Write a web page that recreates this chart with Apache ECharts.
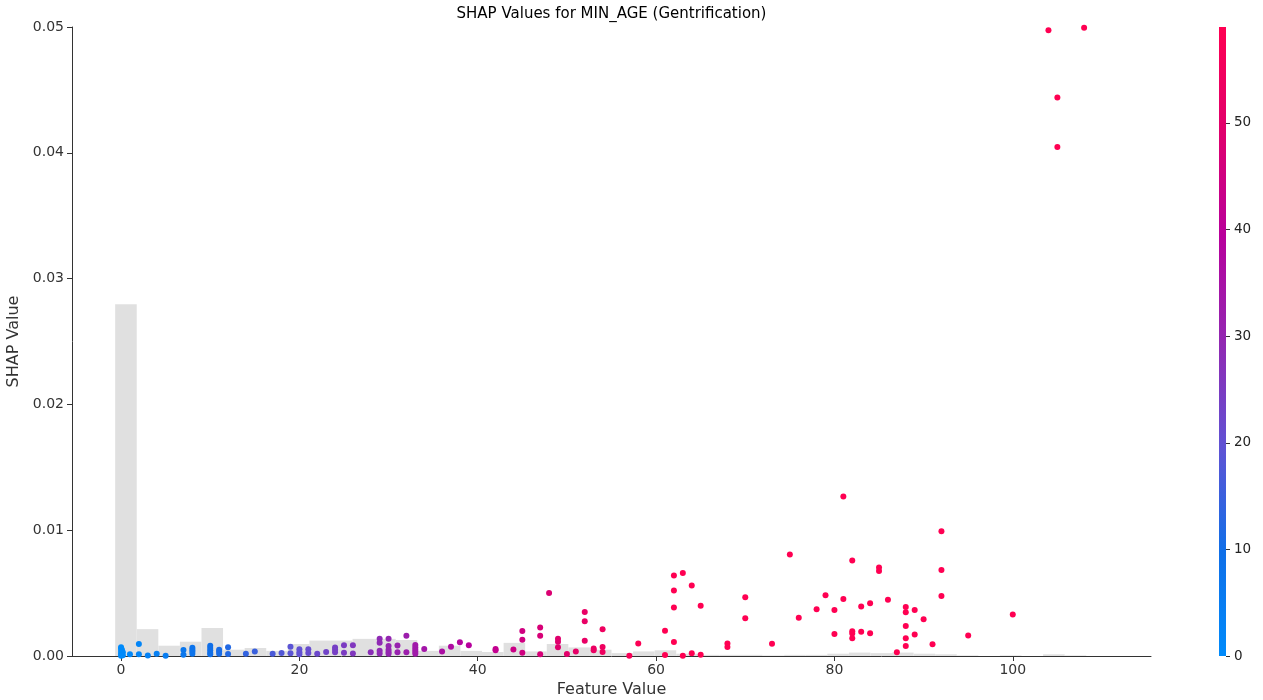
<!DOCTYPE html>
<html>
<head>
<meta charset="utf-8">
<script src="https://cdn.jsdelivr.net/npm/echarts@6/dist/echarts.min.js"></script>
<style>
  html, body { margin: 0; padding: 0; background: #ffffff; }
  #chart { width: 1263px; height: 700px; }
</style>
</head>
<body>
<div id="chart"></div>
<script>
// Feature value (MIN_AGE) and its SHAP contribution, one entry per plotted sample
const featureValues = [
  0, 0, 0.1, 0, 0.2, 0, 0.1, 0.2, 0,
  1, 2, 2, 3, 4, 5, 7, 7,
  8, 8, 8, 8,
  10, 10, 10, 10, 10,
  11, 11, 11, 12, 12, 14, 15, 17, 18, 19, 19,
  20, 20, 20, 21, 21, 22, 23, 24, 24, 24, 25, 25, 26, 26, 28,
  29, 29, 29, 29, 30, 30, 30, 30, 30, 31, 31, 32, 32,
  33, 33, 33, 33, 33, 34, 36, 37, 38, 39, 42, 42, 44,
  45, 45, 45, 47, 47, 47, 48, 49, 49, 49, 50, 51, 52, 52, 52,
  53, 53, 54, 54, 54, 57, 58, 61, 61, 62, 62, 62, 62, 63, 63,
  64, 64, 65, 65, 68, 68, 70, 70, 73, 75, 76, 78, 79, 80, 80,
  81, 81, 82, 82, 82, 82, 83, 83, 84, 84, 85, 85, 86, 87,
  88, 88, 88, 88, 88, 89, 89, 90, 91, 92, 92, 92, 95, 100,
  104, 105, 105, 108
];
const shapValues = [
  0.0007, 0.0006, 0.0005, 0.0004, 0.0003, 0.0002, 0.0001, 0.00005, 0.00002,
  0.00014, 0.00095, 0.00013, 0.00003, 0.00018, 0.00002, 0.00048, 0.0001,
  0.00066, 0.0005, 0.00035, 0.00018,
  0.00082, 0.00064, 0.00045, 0.00026, 0.00013,
  0.0005, 0.00035, 0.00018, 0.0007, 0.00016, 0.00018, 0.00035, 0.00018, 0.00024, 0.00074, 0.00021,
  0.00053, 0.0003, 0.00014, 0.00053, 0.00024, 0.00018, 0.00032, 0.00068, 0.0005, 0.0003, 0.00086, 0.00026, 0.00086, 0.00019, 0.0003,
  0.00138, 0.00105, 0.00042, 0.00019, 0.00138, 0.0008, 0.0005, 0.00031, 0.00018, 0.00084, 0.0003, 0.0016, 0.00029,
  0.00088, 0.00068, 0.0005, 0.00033, 0.00018, 0.00056, 0.00036, 0.00074, 0.0011, 0.00085, 0.00056, 0.00045, 0.00052,
  0.00198, 0.0013, 0.00026, 0.00226, 0.0016, 0.00014, 0.005, 0.00138, 0.00114, 0.00069, 0.00016, 0.00035, 0.0035, 0.00276, 0.00122,
  0.00059, 0.00045, 0.00212, 0.00072, 0.00032, 0.00002, 0.001, 0.002, 0.00008, 0.0064, 0.0052, 0.00385, 0.00111, 0.0066, 0.00002,
  0.0056, 0.00021, 0.004, 0.0001, 0.00099, 0.00072, 0.00467, 0.003, 0.00098, 0.00806, 0.00305, 0.00371, 0.00483, 0.00366, 0.00175,
  0.01267, 0.00453, 0.0076, 0.00196, 0.00178, 0.00141, 0.00393, 0.00192, 0.00419, 0.00181, 0.00703, 0.00676, 0.00448, 0.0003,
  0.0039, 0.00347, 0.00238, 0.00141, 0.0008, 0.00366, 0.0017, 0.00292, 0.00093, 0.00991, 0.00684, 0.00477, 0.00162, 0.00329,
  0.04974, 0.04439, 0.04046, 0.04995
];

// Background histogram of the feature: equal-width bins starting at histBinStart
const histBinStart = -0.66;
const histBinWidth = 2.42;
const histCounts = [
  615, 47, 18, 25, 49, 11, 14, 9, 21, 27, 27, 30, 30, 28, 9, 18, 9, 7, 23, 8,
  21, 15, 11, 5, 8, 10, 4, 2, 2, 2, 1, 2, 2, 4, 6, 5, 6, 4, 3, 1,
  0, 1, 0, 3, 1
];
const sampleCount = 1100;

// Axis ticks and colour scale
const xTicks = [0, 20, 40, 60, 80, 100];
const xRange = [-5.5, 115.5];
const yRange = [0, 0.05];
const yStep = 0.01;
const colorRange = [0, 59];
const colorTicks = [0, 10, 20, 30, 40, 50];
const colorStops = ['#008bfb', '#106fe8', '#6052d4', '#9228b2', '#b8009c', '#e0006c', '#ff0052'];

const FONT = 'DejaVu Sans';
const AXIS_COLOR = '#333333';

const points = featureValues.map((x, i) => [x, shapValues[i]]);
const histData = histCounts
  .map((c, i) => [histBinStart + i * histBinWidth, histBinStart + (i + 1) * histBinWidth, c])
  .filter(d => d[2] > 0);

const chart = echarts.init(document.getElementById('chart'), null, { renderer: 'canvas' });

const option = {
  animation: false,
  backgroundColor: '#ffffff',
  textStyle: { fontFamily: FONT },
  graphic: [{
    type: 'text',
    x: 611.5, y: 14,
    style: {
      text: 'SHAP Values for MIN_AGE (Gentrification)',
      fontFamily: FONT, fontSize: 15, fill: '#000000',
      align: 'center', verticalAlign: 'middle'
    }
  }],
  grid: [
    { left: 72, top: 27, width: 1079, height: 629, containLabel: false, outerBoundsMode: 'none' },
    { left: 1219, top: 27, width: 7, height: 629, containLabel: false, outerBoundsMode: 'none' }
  ],
  xAxis: [
    {
      type: 'value', gridIndex: 0, min: xRange[0], max: xRange[1],
      name: 'Feature Value', nameLocation: 'middle', nameGap: 25,
      nameTextStyle: { fontFamily: FONT, fontSize: 16, color: AXIS_COLOR },
      axisLine: { show: true, onZero: false, lineStyle: { color: AXIS_COLOR, width: 1 } },
      axisTick: { show: true, length: 5, customValues: xTicks, lineStyle: { color: AXIS_COLOR } },
      axisLabel: { customValues: xTicks, margin: 7, fontFamily: FONT, fontSize: 14, color: AXIS_COLOR },
      splitLine: { show: false }
    },
    { type: 'value', gridIndex: 1, min: 0, max: 1, show: false }
  ],
  yAxis: [
    {
      type: 'value', gridIndex: 0, min: yRange[0], max: yRange[1], interval: yStep,
      name: 'SHAP Value', nameLocation: 'middle', nameGap: 37, nameRotate: 90,
      nameTextStyle: { fontFamily: FONT, fontSize: 16, color: AXIS_COLOR },
      axisLine: { show: true, onZero: false, lineStyle: { color: AXIS_COLOR, width: 1 } },
      axisTick: { show: true, length: 5, lineStyle: { color: AXIS_COLOR } },
      axisLabel: { margin: 8, fontFamily: FONT, fontSize: 14, color: AXIS_COLOR,
                   formatter: v => v.toFixed(2) },
      splitLine: { show: false }
    },
    { type: 'value', gridIndex: 0, min: 0, max: sampleCount, show: false },
    {
      type: 'value', gridIndex: 1, min: colorRange[0], max: colorRange[1], position: 'right',
      axisLine: { show: false, onZero: false },
      axisTick: { show: true, length: 4, customValues: colorTicks, lineStyle: { color: AXIS_COLOR } },
      axisLabel: { customValues: colorTicks, margin: 8, fontFamily: FONT, fontSize: 13.5, color: '#222222' },
      splitLine: { show: false }
    }
  ],
  visualMap: {
    type: 'continuous', show: false, seriesIndex: 1, dimension: 0,
    min: colorRange[0], max: colorRange[1],
    inRange: { color: colorStops }
  },
  series: [
    {
      type: 'custom', name: 'histogram', xAxisIndex: 0, yAxisIndex: 1, z: 1,
      silent: true,
      data: histData,
      renderItem: (params, api) => {
        const p0 = api.coord([api.value(0), 0]);
        const p1 = api.coord([api.value(1), api.value(2)]);
        return {
          type: 'rect',
          shape: { x: p0[0], y: p1[1], width: p1[0] - p0[0], height: p0[1] - p1[1] },
          style: { fill: '#e0e0e0' }
        };
      }
    },
    {
      type: 'scatter', name: 'MIN_AGE', xAxisIndex: 0, yAxisIndex: 0, z: 3,
      symbol: 'circle', symbolSize: 6,
      itemStyle: { opacity: 1 },
      data: points
    },
    {
      type: 'custom', name: 'colorbar', xAxisIndex: 1, yAxisIndex: 2, silent: true,
      data: [[colorRange[0], colorRange[1]]],
      renderItem: (params, api) => {
        const lo = api.coord([0, api.value(0)]);
        const hi = api.coord([1, api.value(1)]);
        return {
          type: 'rect',
          shape: { x: lo[0], y: hi[1], width: hi[0] - lo[0], height: lo[1] - hi[1] },
          style: {
            fill: new echarts.graphic.LinearGradient(0, 1, 0, 0,
              colorStops.map((c, i) => ({ offset: i / (colorStops.length - 1), color: c })))
          }
        };
      }
    }
  ]
};

chart.setOption(option);
</script>
</body>
</html>
